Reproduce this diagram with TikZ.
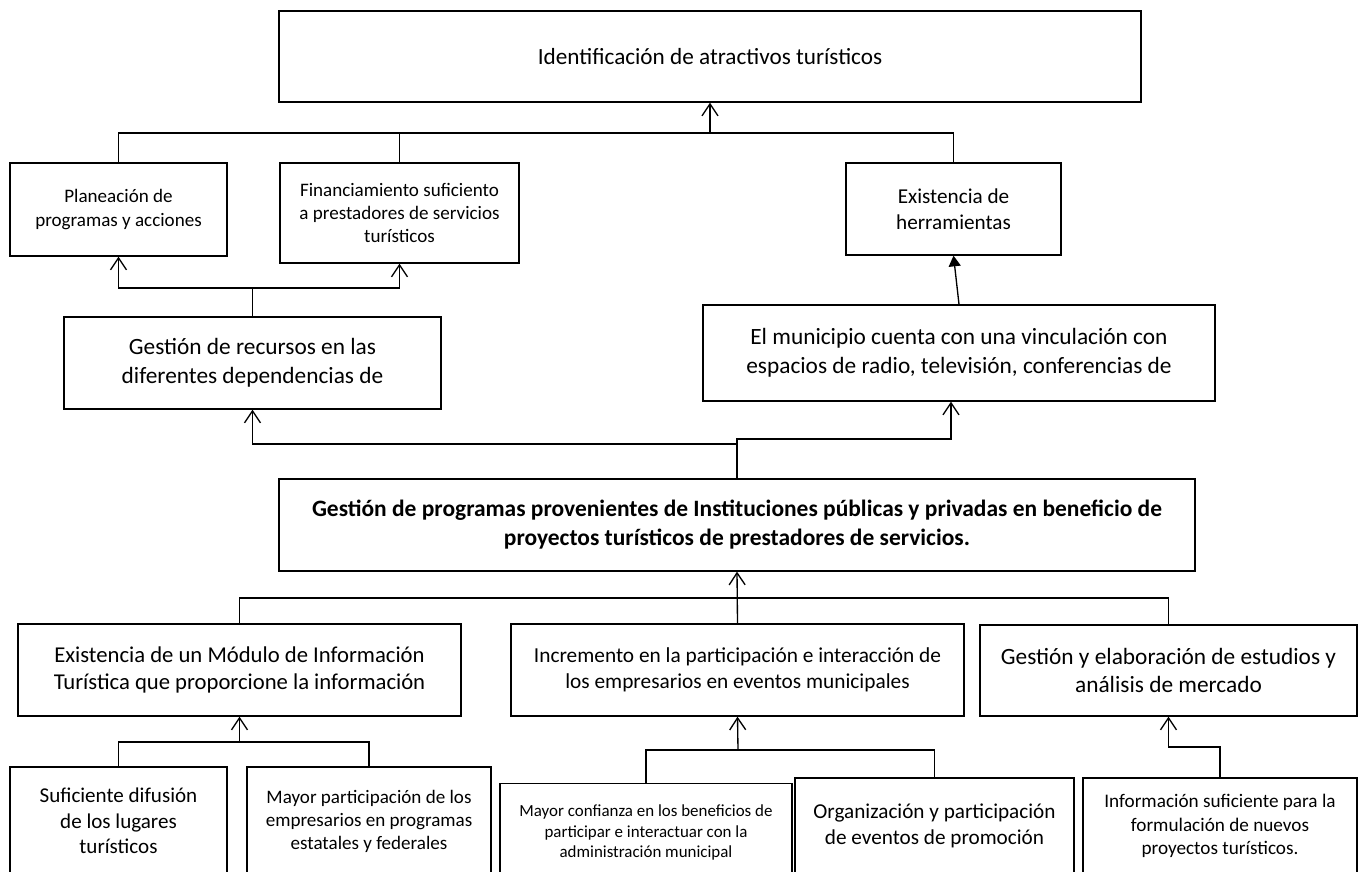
\documentclass[tikz,border=0pt]{standalone}
\usepackage{fontspec}
\setmainfont{Carlito}
\usetikzlibrary{arrows.meta}

\begin{document}
\begin{tikzpicture}[x=0.75pt,y=-0.75pt,
	caja/.style={draw,line width=1pt,align=center,inner sep=2pt},
	linea/.style={line width=1pt},
	flecha/.style={line width=1pt,-{Straight Barb[length=9pt,width=12pt]}},
	flechallena/.style={line width=1pt,-{Triangle[length=8pt,width=9pt]}}]
	\useasboundingbox (0,0) rectangle (1359,871);
	\clip (0,0) rectangle (1359,871);
	\node[caja,minimum width=646.5pt,minimum height=68.25pt,font=\fontsize{17.4}{21.2}\selectfont] (top) at (710,56.5){Identificación de atractivos turísticos};
	\node[caja,minimum width=162.75pt,minimum height=69.75pt,font=\fontsize{14.3}{17.4}\selectfont] (plan) at (118.5,209.5){Planeación de\\programas y acciones};
	\node[caja,minimum width=179.25pt,minimum height=75pt,font=\fontsize{14.3}{17.4}\selectfont] (fin) at (399.5,213){Financiamiento suficiento\\a prestadores de servicios\\turísticos};
	\node[caja,minimum width=161.25pt,minimum height=69pt,font=\fontsize{15.9}{19.4}\selectfont] (exist) at (953.5,209){Existencia de\\herramientas};
	\node[caja,minimum width=282.75pt,minimum height=69pt,font=\fontsize{17.5}{21.4}\selectfont] (rec) at (252.5,363){Gestión de recursos en las\\diferentes dependencias de};
	\node[caja,minimum width=384pt,minimum height=72pt,font=\fontsize{17.5}{21.4}\selectfont] (muni) at (959,353){El municipio cuenta con una vinculación con\\espacios de radio, televisión, conferencias de};
	\node[caja,minimum width=687pt,minimum height=69pt,font=\bfseries\fontsize{17.6}{21.7}\selectfont] (main) at (737,525){Gestión de programas provenientes de Instituciones públicas y privadas en beneficio de\\proyectos turísticos de prestadores de servicios.};
	\node[caja,minimum width=332.25pt,minimum height=69pt,font=\fontsize{17}{20.6}\selectfont] (mod) at (239.5,670){Existencia de un Módulo de Información\\Turística que proporcione la información};
	\node[caja,minimum width=339.75pt,minimum height=69pt,font=\fontsize{16}{19.5}\selectfont] (inc) at (737.5,670){Incremento en la participación e interacción de\\los empresarios en eventos municipales};
	\node[caja,minimum width=282.75pt,minimum height=68.25pt,font=\fontsize{17.5}{21.4}\selectfont] (ges) at (1168.5,670.5){Gestión y elaboración de estudios y\\análisis de mercado};
	\node[caja,minimum width=162.75pt,minimum height=81pt,font=\fontsize{15.8}{19.3}\selectfont] (suf) at (118.5,821){Suficiente difusión\\de los lugares\\turísticos};
	\node[caja,minimum width=183pt,minimum height=81.75pt,font=\fontsize{14.3}{17.4}\selectfont] (may) at (369,821.5){Mayor participación de los\\empresarios en programas\\estatales y federales};
	\node[caja,minimum width=219pt,minimum height=74pt,font=\fontsize{12.7}{15.5}\selectfont] (conf) at (646,832.5){Mayor confianza en los beneficios de\\participar e interactuar con la\\administración municipal};
	\node[caja,minimum width=209.25pt,minimum height=72pt,font=\fontsize{15.9}{19.4}\selectfont] (org) at (934.5,826){Organización y participación\\de eventos de promoción};
	\node[caja,minimum width=205.5pt,minimum height=72pt,font=\fontsize{14.4}{17.6}\selectfont] (info) at (1220,826){Información suficiente para la\\formulación de nuevos\\proyectos turísticos.};
	\coordinate (jtop) at (710,133);
	\coordinate (jrec) at (252.5,288);
	\coordinate (jmainl) at (737,444);
	\coordinate (jmainr) at (737,439);
	\coordinate (jlow) at (737,598);
	\coordinate (jmod) at (239.5,742);
	\coordinate (jinc) at (738,750);
	\coordinate (jges) at (1168.5,747);
	\draw[linea] (plan.north) |- (jtop) -| (exist.north);
	\draw[linea] (fin.north) -- (fin.north |- jtop);
	\draw[flecha] (jtop) -- (top.south);
	\draw[linea] (rec.north) -- (jrec);
	\draw[flecha] (jrec) -| (plan.south);
	\draw[flecha] (jrec) -| (fin.south);
	\draw[flechallena] (muni.north) -- (exist.south);
	\draw[flecha] (main.north) -- (jmainl) -| (rec.south);
	\draw[flecha] (main.north) -- (jmainr) -| ([xshift=-6pt]muni.south);
	\draw[linea] (mod.north) |- (jlow) -| (ges.north);
	\draw[flecha] (inc.north) -- (main.south);
	\draw[linea] (suf.north) |- (jmod) -| (may.north);
	\draw[flecha] (jmod) -- (mod.south);
	\draw[linea] (conf.north) |- (jinc) -| (org.north);
	\draw[flecha] (jinc) -- (inc.south);
	\draw[flecha] (info.north) |- (jges) -- (ges.south);
\end{tikzpicture}
\end{document}
